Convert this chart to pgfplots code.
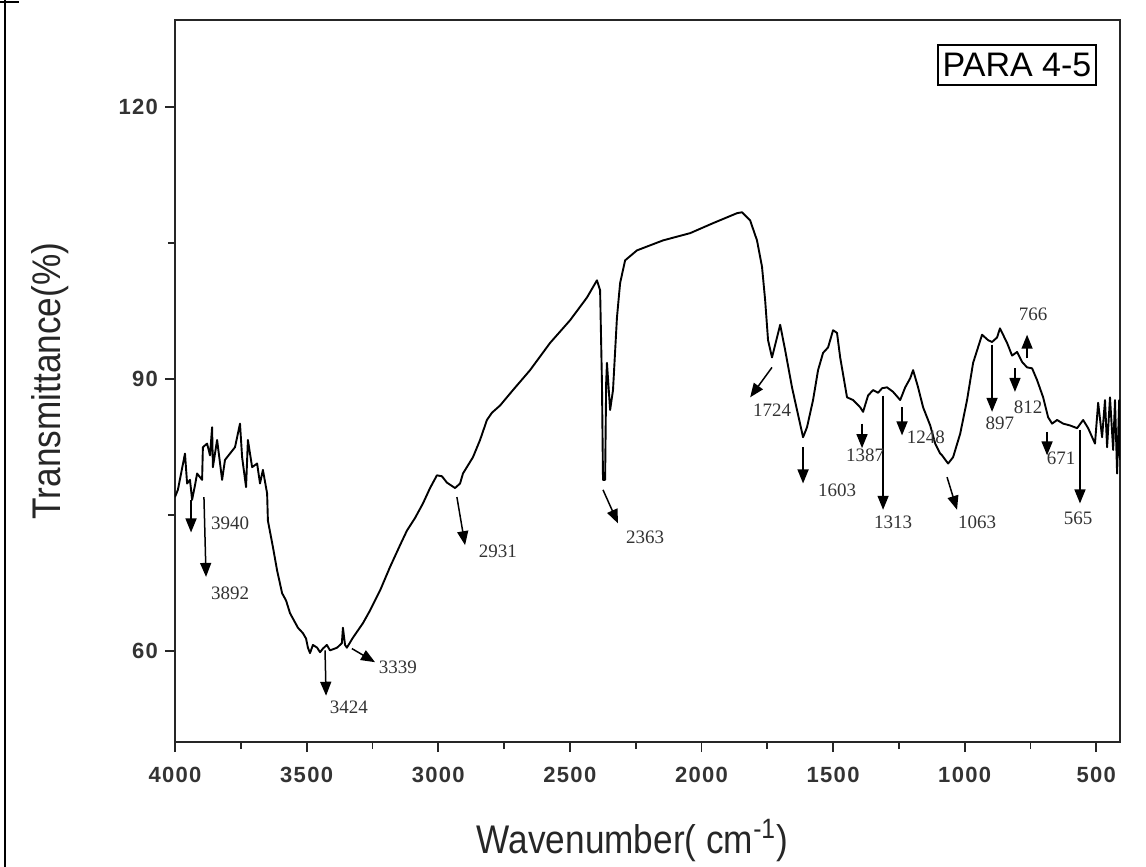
\documentclass[border=0pt]{standalone}
\usepackage{fontspec}
\setmainfont{Liberation Sans}
\newfontfamily\annfont{Liberation Serif}
\newfontfamily\narrowfont[FakeStretch=0.88]{Liberation Sans}
\newfontfamily\tickfont[LetterSpace=6]{Liberation Sans}
\usepackage{pgfplots}
\pgfplotsset{compat=1.18}
\usetikzlibrary{arrows.meta}

\begin{document}
\begin{tikzpicture}[
  ann/.style={-{Triangle[length=7pt,width=5.5pt]}, line width=0.75pt, black},
  lab/.style={font=\annfont\fontsize{9.5}{11}\selectfont, text=black!80, inner sep=0pt},
]
\begin{axis}[
  at={(0,0)}, anchor=south west,
  scale only axis, width=472.5pt, height=361pt,
  x dir=reverse, xmin=410, xmax=4000, ymin=50, ymax=129.6,
  xtick={500,1000,...,4000}, ytick={60,90,120},
  minor x tick num=1, minor y tick num=1,
  xtick pos=left, ytick pos=left, tick align=outside,
  major tick length=5pt, minor tick length=3.5pt,
  axis line style={line width=1pt, black!85},
  every tick/.style={line width=0.9pt, black!85},
  /pgf/number format/assume math mode=true,
  /pgf/number format/1000 sep={},
  ticklabel style={font=\tickfont\fontsize{11}{13}\selectfont\bfseries, text=black!80},
  xticklabel style={yshift=-4pt},
  xlabel={Wavenumber( cm\textsuperscript{-1})},
  ylabel={Transmittance(\%)},
  label style={font=\narrowfont\fontsize{20}{24}\selectfont, text=black!85},
  xlabel style={at={(axis description cs:0.484,-0.136)}, anchor=center},
  ylabel style={at={(axis description cs:-0.132,0.5)}, anchor=center},
]
\addplot[black, line width=0.95pt, line join=round] coordinates {
(4000,77.0) (3989,77.8) (3962,81.8) (3954,78.5) (3943,78.9) (3935,76.7)
(3924,78.3) (3916,79.6) (3897,78.9) (3894,82.5) (3878,82.9) (3867,81.6)
(3859,84.7) (3856,80.3) (3840,83.3) (3821,78.9) (3810,81.1) (3791,81.8)
(3772,82.5) (3753,85.1) (3745,81.4) (3730,78.1) (3723,83.3) (3707,80.3)
(3688,80.7) (3677,78.5) (3666,80.0) (3650,77.4) (3647,74.4) (3628,71.5)
(3612,68.9) (3593,66.4) (3578,65.6) (3563,64.2) (3533,62.6) (3514,62.0)
(3502,61.4) (3495,60.4) (3487,59.8) (3476,60.7) (3460,60.4) (3449,59.9)
(3438,60.3) (3423,60.7) (3411,60.1) (3384,60.4) (3366,60.9) (3362,62.6)
(3354,60.7) (3347,60.4) (3324,61.5) (3286,63.1) (3259,64.5) (3221,66.7)
(3183,69.3) (3145,71.7) (3119,73.3) (3088,74.7) (3058,76.3) (3031,78.0)
(3005,79.4) (2986,79.3) (2967,78.6) (2936,78.0) (2917,78.5) (2906,79.6)
(2868,81.4) (2841,83.3) (2815,85.5) (2796,86.3) (2765,87.1) (2716,88.8)
(2651,91.0) (2575,94.0) (2499,96.5) (2435,99.0) (2397,100.9) (2385,99.8)
(2378,89.6) (2374,78.9) (2366,78.9) (2362,89.6) (2359,91.8) (2347,86.6)
(2336,88.8) (2321,96.8) (2309,100.6) (2290,103.1) (2245,104.2) (2146,105.3)
(2043,106.1) (1956,107.2) (1865,108.3) (1846,108.4) (1815,107.5) (1789,105.3)
(1770,102.4) (1758,98.7) (1747,94.3) (1732,92.4) (1713,94.6) (1701,96.0)
(1682,93.2) (1656,89.1) (1637,86.6) (1614,83.6) (1599,84.7) (1576,87.7)
(1557,91.0) (1538,92.9) (1519,93.5) (1500,95.4) (1485,95.1) (1473,92.4)
(1447,88.0) (1424,87.7) (1397,86.9) (1386,86.4) (1367,88.2) (1348,88.8)
(1329,88.5) (1314,89.0) (1295,89.1) (1272,88.6) (1245,87.7) (1226,89.1)
(1207,90.1) (1196,91.0) (1177,89.1) (1158,86.9) (1131,84.9) (1112,82.9)
(1093,81.8) (1086,81.6) (1063,80.7) (1044,81.4) (1017,84.0) (991,87.7)
(968,91.8) (934,94.9) (911,94.3) (896,94.1) (877,94.6) (866,95.6)
(839,94.0) (820,92.6) (801,93.0) (782,91.9) (763,91.3) (744,91.2)
(725,89.9) (702,88.0) (683,85.8) (668,85.1) (649,85.5) (626,85.1)
(600,84.9) (573,84.6) (550,85.5) (531,84.6) (505,82.9) (493,87.4)
(478,83.6) (467,87.7) (459,82.5) (448,88.0) (436,82.2) (429,87.7)
(421,79.6) (413,87.7) (410,81.1)
};
% peak markers
\draw[ann] (3939,76.7) -- (3939,73.1);
\draw[ann] (3890,77.0) -- (3882,68.2);
\draw[ann] (3430,60.1) -- (3426,55.1);
\draw[ann] (3328,60.3) -- (3240,58.8);
\draw[ann] (2929,77.0) -- (2898,71.7);
\draw[ann] (2374,77.8) -- (2317,74.1);
\draw[ann] (1732,91.3) -- (1815,88.0);
\draw[ann] (1614,82.5) -- (1614,78.5);
\draw[ann] (1390,85.1) -- (1390,82.4);
\draw[ann] (1310,88.2) -- (1310,75.6);
\draw[ann] (1238,86.9) -- (1238,83.8);
\draw[ann] (1067,79.2) -- (1029,75.6);
\draw[ann] (896,93.8) -- (896,86.4);
\draw[ann] (809,91.2) -- (809,88.6);
\draw[ann] (763,92.3) -- (763,94.9);
\draw[ann] (687,84.2) -- (687,81.6);
\draw[ann] (562,84.4) -- (562,76.3);
\node[lab] at (3791,74.1) {3940};
\node[lab] at (3791,66.4) {3892};
\node[lab] at (3339,53.8) {3424};
\node[lab] at (3153,58.2) {3339};
\node[lab] at (2773,71.0) {2931};
\node[lab] at (2214,72.6) {2363};
\node[lab] at (1732,86.6) {1724};
\node[lab] at (1485,77.8) {1603};
\node[lab] at (1378,81.6) {1387};
\node[lab] at (1272,74.2) {1313};
\node[lab] at (1147,83.6) {1248};
\node[lab] at (953,74.2) {1063};
\node[lab] at (866,85.1) {897};
\node[lab] at (759,86.9) {812};
\node[lab] at (740,97.1) {766};
\node[lab] at (634,81.3) {671};
\node[lab] at (569,74.7) {565};
\node[draw, line width=1pt, font=\fontsize{17}{20}\selectfont, inner xsep=2.5pt,
  minimum height=20pt] at (rel axis cs:0.891,0.938) {PARA 4-5};
\end{axis}
\draw[line width=1.2pt] (-85pt,-62.5pt) -- (-85pt,371pt);
\draw[line width=1pt] (-87.5pt,369.8pt) -- (-78pt,369.8pt);
\pgfresetboundingbox
\path[use as bounding box] (-87.5pt,-62.5pt) rectangle (485.5pt,371pt);
\end{tikzpicture}
\end{document}
